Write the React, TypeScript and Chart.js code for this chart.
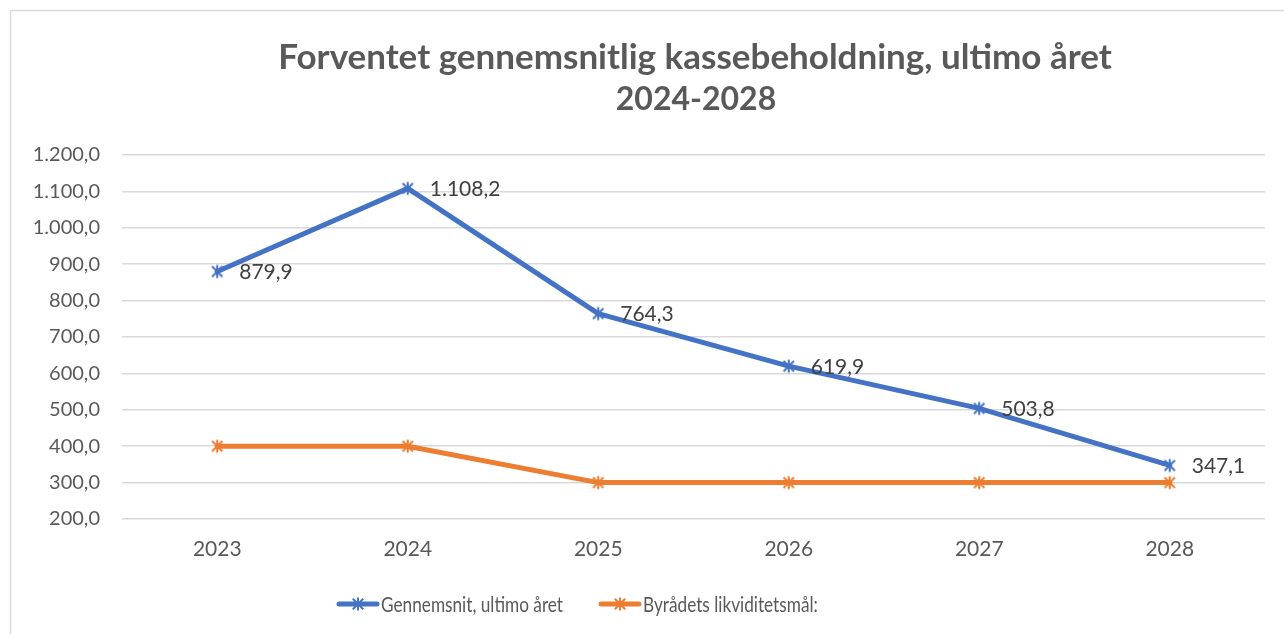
import React, { useEffect, useRef } from "react";
import { Chart, registerables } from "chart.js";

Chart.register(...registerables);

const categories = ["2023", "2024", "2025", "2026", "2027", "2028"];
const seriesAverage = [879.9, 1108.2, 764.3, 619.9, 503.8, 347.1];
const seriesTarget = [400, 400, 300, 300, 300, 300];
const seriesNames = ["Gennemsnit, ultimo året", "Byrådets likviditetsmål:"];
const titleLines = ["Forventet gennemsnitlig kassebeholdning, ultimo året", "2024-2028"];
const yMin = 200;
const yMax = 1200;
const yStep = 100;

const BLUE = "#4472C4";
const ORANGE = "#ED7D31";
const TEXT = "#595959";
const GRID = "#D9D9D9";
const FONT = "Lato, 'Open Sans', sans-serif";

function fmt(v: number): string {
  const neg = v < 0;
  const fixed = Math.abs(v).toFixed(1);
  const [ip, dp] = fixed.split(".");
  const withSep = ip.replace(/\B(?=(\d{3})+(?!\d))/g, ".");
  return (neg ? "-" : "") + withSep + "," + dp;
}

function drawStar(ctx: CanvasRenderingContext2D, x: number, y: number, r: number, color: string) {
  ctx.save();
  ctx.strokeStyle = color;
  ctx.lineWidth = 2;
  ctx.lineCap = "butt";
  ctx.beginPath();
  ctx.moveTo(x, y - r);
  ctx.lineTo(x, y + r);
  const d = r * 0.8;
  ctx.moveTo(x - d, y - d);
  ctx.lineTo(x + d, y + d);
  ctx.moveTo(x - d, y + d);
  ctx.lineTo(x + d, y - d);
  ctx.stroke();
  ctx.restore();
}

function makeStarCanvas(color: string): HTMLCanvasElement {
  const c = document.createElement("canvas");
  c.width = 16;
  c.height = 16;
  const ctx = c.getContext("2d")!;
  drawStar(ctx, 8, 8, 6.5, color);
  return c;
}

export default function App() {
  const ref = useRef<HTMLCanvasElement | null>(null);

  useEffect(() => {
    const canvas = ref.current;
    if (!canvas) return;
    const colors = [BLUE, ORANGE];

    const decorPlugin = {
      id: "decor",
      beforeDraw(chart: any) {
        const ctx = chart.ctx as CanvasRenderingContext2D;
        ctx.save();
        ctx.fillStyle = "#ffffff";
        ctx.fillRect(0, 0, chart.width, chart.height);
        ctx.strokeStyle = GRID;
        ctx.lineWidth = 1.5;
        ctx.beginPath();
        ctx.moveTo(10.5, chart.height);
        ctx.lineTo(10.5, 10.5);
        ctx.lineTo(chart.width, 10.5);
        ctx.stroke();
        ctx.restore();
      },
      afterDatasetsDraw(chart: any) {
        const ctx = chart.ctx as CanvasRenderingContext2D;
        ctx.save();
        const meta = chart.getDatasetMeta(0);
        ctx.fillStyle = "#404040";
        ctx.font = `21px ${FONT}`;
        ctx.textAlign = "left";
        ctx.textBaseline = "middle";
        meta.data.forEach((pt: any, i: number) => {
          ctx.fillText(fmt(seriesAverage[i]), pt.x + 22, pt.y + 1);
        });
        ctx.restore();
      },
      afterDraw(chart: any) {
        const ctx = chart.ctx as CanvasRenderingContext2D;
        ctx.save();
        // title
        ctx.fillStyle = TEXT;
        ctx.font = `bold 35px ${FONT}`;
        ctx.textAlign = "center";
        ctx.textBaseline = "middle";
        ctx.fillText(titleLines[0], 695, 58);
        ctx.font = `bold 32px ${FONT}`;
        ctx.fillText(titleLines[1], 696, 100);
        // legend
        ctx.font = `20.5px ${FONT}`;
        ctx.textAlign = "left";
        const sx = 0.84;
        let x = 337;
        const y = 604;
        seriesNames.forEach((name, i) => {
          ctx.strokeStyle = colors[i];
          ctx.lineWidth = 5;
          ctx.lineCap = "round";
          ctx.beginPath();
          ctx.moveTo(x + 2, y);
          ctx.lineTo(x + 40, y);
          ctx.stroke();
          drawStar(ctx, x + 21, y, 6.5, colors[i]);
          ctx.fillStyle = TEXT;
          ctx.save();
          ctx.translate(x + 44, y + 1);
          ctx.scale(sx, 1);
          ctx.fillText(name, 0, 0);
          ctx.restore();
          const w = ctx.measureText(name).width * sx;
          x = x + 44 + w + 36;
        });
        ctx.restore();
      },
    };

    const chart = new Chart(canvas, {
      type: "line",
      data: {
        labels: categories,
        datasets: [
          {
            label: seriesNames[0],
            data: seriesAverage,
            borderColor: BLUE,
            backgroundColor: BLUE,
            borderWidth: 5,
            borderCapStyle: "round",
            borderJoinStyle: "round",
            tension: 0,
            pointStyle: makeStarCanvas(BLUE) as any,
            pointRadius: 7,
          },
          {
            label: seriesNames[1],
            data: seriesTarget,
            borderColor: ORANGE,
            backgroundColor: ORANGE,
            borderWidth: 5,
            borderCapStyle: "round",
            borderJoinStyle: "round",
            tension: 0,
            pointStyle: makeStarCanvas(ORANGE) as any,
            pointRadius: 7,
          },
        ],
      },
      options: {
        responsive: false,
        animation: false,
        layout: { padding: { top: 155, right: 19, left: 0, bottom: 0 } },
        plugins: {
          legend: { display: false },
          title: { display: false },
          tooltip: { enabled: false },
        },
        scales: {
          x: {
            offset: true,
            grid: { display: false, drawTicks: false },
            border: { display: false },
            ticks: {
              color: TEXT,
              font: { family: FONT, size: 21 },
              padding: 18,
            },
            afterFit(scale: any) {
              scale.height = 115;
            },
          },
          y: {
            min: yMin,
            max: yMax,
            grid: { color: GRID, lineWidth: 1.5, drawTicks: false },
            border: { display: false },
            ticks: {
              stepSize: yStep,
              color: TEXT,
              font: { family: FONT, size: 20 },
              padding: 22,
              callback: (v: any) => fmt(Number(v)),
            },
            afterFit(scale: any) {
              scale.width = 122;
            },
          },
        },
      },
      plugins: [decorPlugin],
    } as any);

    return () => chart.destroy();
  }, []);

  return (
    <div style={{ position: "fixed", left: 0, top: 0, width: 1284, height: 634 }}>
      <canvas ref={ref} width={1284} height={634} style={{ display: "block" }} />
    </div>
  );
}
